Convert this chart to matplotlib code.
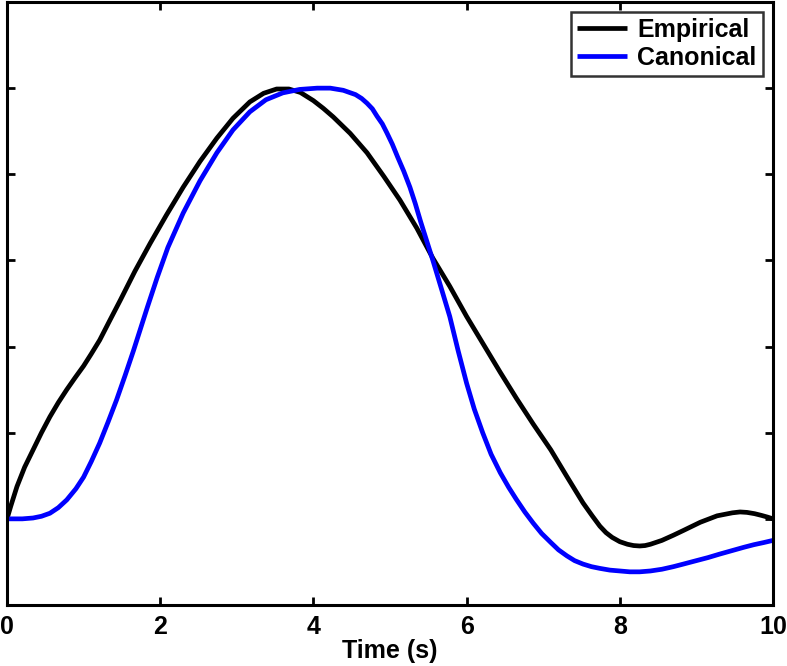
import matplotlib
matplotlib.use("Agg")
import matplotlib.pyplot as plt

# values (time in s, normalised response)
t_emp = [0, 0.05, 0.13, 0.23, 0.34, 0.45, 0.56, 0.67, 0.78, 0.89, 1.0, 1.1, 1.21,
         1.34, 1.48, 1.67, 1.87, 2.08, 2.30, 2.52, 2.74, 2.95, 3.17, 3.35, 3.52,
         3.68, 3.83, 4.0, 4.13, 4.26, 4.48, 4.70, 4.92, 5.13, 5.35, 5.56, 5.78,
         6.0, 6.22, 6.44, 6.65, 6.87, 7.1, 7.31, 7.52, 7.64, 7.74, 7.82, 7.9,
         8.0, 8.1, 8.18, 8.26, 8.33, 8.4, 8.55, 8.7, 8.83, 9.05, 9.27, 9.47,
         9.57, 9.66, 9.76, 9.85, 9.93, 10.0]
y_emp = [0, 0.03, 0.075, 0.12, 0.16, 0.2, 0.237, 0.27, 0.30, 0.328, 0.355, 0.383,
         0.415, 0.46, 0.508, 0.575, 0.64, 0.705, 0.77, 0.83, 0.884, 0.93, 0.968,
         0.988, 0.998, 0.998, 0.99, 0.971, 0.953, 0.933, 0.895, 0.85, 0.795, 0.74,
         0.675, 0.605, 0.54, 0.47, 0.405, 0.34, 0.28, 0.22, 0.16, 0.098, 0.037,
         0.007, -0.017, -0.032, -0.043, -0.053, -0.059, -0.062, -0.063, -0.062,
         -0.059, -0.05, -0.038, -0.027, -0.008, 0.007, 0.014, 0.016, 0.015, 0.012,
         0.008, 0.004, 0.0]

t_can = [0, 0.2, 0.34, 0.45, 0.56, 0.67, 0.78, 0.9, 1.0, 1.1, 1.21, 1.32, 1.43,
         1.54, 1.65, 1.83, 1.96, 2.1, 2.30, 2.52, 2.74, 2.95, 3.17, 3.38, 3.6,
         3.82, 4.05, 4.22, 4.39, 4.55, 4.63, 4.70, 4.77, 4.83, 4.9, 4.96, 5.03,
         5.1, 5.18, 5.26, 5.33, 5.4, 5.48, 5.56, 5.67, 5.78, 5.89, 6.0, 6.1,
         6.21, 6.32, 6.44, 6.55, 6.65, 6.76, 6.87, 6.98, 7.1, 7.2, 7.31, 7.41,
         7.52, 7.63, 7.74, 7.87, 8.0, 8.13, 8.26, 8.4, 8.55, 8.7, 8.83, 9.0,
         9.15, 9.3, 9.48, 9.62, 9.75, 9.88, 10.0]
y_can = [0, 0.0, 0.002, 0.006, 0.013, 0.026, 0.044, 0.07, 0.097, 0.133, 0.176,
         0.225, 0.276, 0.332, 0.39, 0.49, 0.56, 0.63, 0.71, 0.785, 0.85, 0.903,
         0.945, 0.973, 0.989, 0.997, 1.0, 1.0, 0.995, 0.985, 0.976, 0.965, 0.952,
         0.935, 0.917, 0.896, 0.87, 0.84, 0.807, 0.77, 0.732, 0.69, 0.645, 0.60,
         0.535, 0.47, 0.39, 0.315, 0.255, 0.2, 0.15, 0.107, 0.073, 0.045, 0.016,
         -0.01, -0.034, -0.055, -0.072, -0.086, -0.097, -0.105, -0.111, -0.115,
         -0.119, -0.121, -0.123, -0.123, -0.121, -0.117, -0.111, -0.105, -0.097,
         -0.09, -0.082, -0.073, -0.066, -0.06, -0.055, -0.05]

x_ticks = [0, 2, 4, 6, 8, 10]
y_ticks = [-0.2, 0, 0.2, 0.4, 0.6, 0.8, 1.0, 1.2]

plt.rcParams['font.family'] = ['Liberation Sans', 'DejaVu Sans']
plt.rcParams['font.weight'] = 'bold'

fig = plt.figure(figsize=(7.87, 6.66), dpi=100)
ax = fig.add_axes([0.0089, 0.0916, 0.9733, 0.9054])

ax.plot(t_emp, y_emp, color='black', lw=3.4, label='Empirical',
        solid_joinstyle='round', solid_capstyle='butt')
ax.plot(t_can, y_can, color='#0000ff', lw=3.4, label='Canonical',
        solid_joinstyle='round', solid_capstyle='butt')

ax.set_xlim(0, 10)
ax.set_ylim(-0.2, 1.2)
ax.set_xticks(x_ticks)
ax.set_yticks(y_ticks)
ax.set_yticklabels([])
ax.tick_params(direction='in', length=6, width=2, top=True, right=True,
               labelsize=18, pad=7)
for lbl in ax.get_xticklabels():
    lbl.set_fontweight('bold')
for s in ax.spines.values():
    s.set_linewidth(2.2)

ax.set_xlabel('Time (s)', fontsize=18, fontweight='bold', labelpad=0)

leg = ax.legend(loc='upper right', fontsize=18, frameon=True, fancybox=False,
                handlelength=2.0, handletextpad=0.4, borderpad=0.25,
                labelspacing=0.15, borderaxespad=0.4)
leg.get_frame().set_edgecolor('black')
leg.get_frame().set_linewidth(1.8)
for txt in leg.get_texts():
    txt.set_fontweight('bold')

fig.savefig('out.png', dpi=100)
